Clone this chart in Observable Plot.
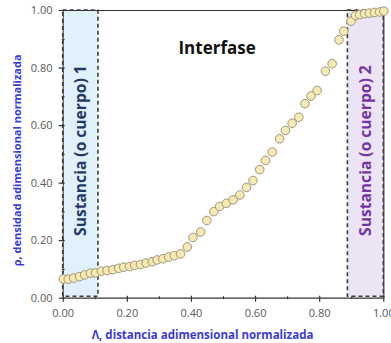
<!DOCTYPE html>
<html>
<head>
<meta charset="utf-8">
<script src="https://cdn.jsdelivr.net/npm/d3@7"></script>
<script src="https://cdn.jsdelivr.net/npm/@observablehq/plot@0.6"></script>
<style>
  html, body { margin: 0; padding: 0; background: #fff; }
  #chart svg { display: block; }
</style>
</head>
<body>
<div id="chart"></div>
<script>
// Normalized dimensionless distance (Λ) and density (ρ)
const lambda = [0.000, 0.016, 0.033, 0.051, 0.067, 0.085, 0.101, 0.119, 0.137, 0.155,
  0.173, 0.189, 0.207, 0.223, 0.241, 0.259, 0.278, 0.293, 0.311, 0.329,
  0.347, 0.366, 0.387, 0.405, 0.429, 0.448, 0.470, 0.488, 0.509, 0.530,
  0.551, 0.572, 0.592, 0.613, 0.631, 0.652, 0.675, 0.693, 0.714, 0.735,
  0.754, 0.773, 0.792, 0.818, 0.839, 0.860, 0.875, 0.898, 0.912, 0.925,
  0.940, 0.955, 0.971, 0.987, 1.000];
const rho = [0.067, 0.066, 0.070, 0.075, 0.081, 0.087, 0.088, 0.094, 0.096, 0.099,
  0.104, 0.108, 0.110, 0.114, 0.117, 0.122, 0.127, 0.133, 0.137, 0.143,
  0.148, 0.154, 0.178, 0.211, 0.230, 0.270, 0.301, 0.319, 0.330, 0.342,
  0.359, 0.385, 0.409, 0.447, 0.479, 0.508, 0.554, 0.583, 0.608, 0.629,
  0.676, 0.703, 0.722, 0.789, 0.815, 0.898, 0.928, 0.963, 0.983, 0.986,
  0.989, 0.991, 0.993, 0.995, 0.998];

// Bulk regions (bodies)
const regionNames = ["Sustancia (o cuerpo) 1", "Sustancia (o cuerpo) 2"];
const regionStart = [0.0, 0.888];
const regionEnd = [0.11, 1.0];
const regionBottom = [0.005, 0.005];
const regionTop = [1.0, 1.0];

const middleLabel = "Interfase";
const xLabel = "Λ, distancia adimensional normalizada";
const yLabel = "ρ, densidad adimensional normalizada";

const majorTicks = [0, 0.2, 0.4, 0.6, 0.8, 1.0];
const minorTicks = [0.1, 0.3, 0.5, 0.7, 0.9];

const points = lambda.map((x, i) => ({x, y: rho[i]}));
const regions = regionNames.map((name, i) => ({
  name, x1: regionStart[i], x2: regionEnd[i], y1: regionBottom[i], y2: regionTop[i],
  xm: (regionStart[i] + regionEnd[i]) / 2
}));

const font = "'Open Sans', sans-serif";
const axisColor = "#333333";

const chart = Plot.plot({
  width: 391,
  height: 343,
  marginLeft: 62.7,
  marginRight: 7.7,
  marginTop: 10,
  marginBottom: 45.3,
  style: {fontFamily: font, background: "#fff"},
  x: {domain: [0, 1], axis: null},
  y: {domain: [0, 1], axis: null},
  marks: [
    Plot.rect(regions, {
      x1: "x1", x2: "x2", y1: "y1", y2: "y2",
      fill: (d, i) => i === 0 ? "#e0f1fb" : "#ece4f4"
    }),
    // frame lines (top and right solid, axes)
    Plot.ruleY([1], {stroke: axisColor, strokeWidth: 1.2}),
    Plot.ruleX([1], {stroke: axisColor, strokeWidth: 1.2}),
    Plot.ruleY([0], {stroke: axisColor, strokeWidth: 1.3}),
    Plot.ruleX([0], {stroke: axisColor, strokeWidth: 1}),
    Plot.rect(regions, {
      x1: "x1", x2: "x2", y1: "y1", y2: "y2",
      fill: "none", stroke: "#3d3d3d", strokeWidth: 1.6, strokeDasharray: "4,3"
    }),
    // axes
    Plot.axisX({ticks: majorTicks, tickSize: 6, dy: -2, text: null, stroke: axisColor, strokeWidth: 1.2}),
    Plot.axisX({ticks: minorTicks, tickSize: 3, dy: -1.5, text: null, stroke: axisColor}),
    Plot.axisX({ticks: majorTicks, tickSize: 0, tickPadding: 11, tickFormat: d3.format(".2f"),
      fontSize: 11, fill: "#595959"}),
    Plot.axisY({ticks: majorTicks, tickSize: 6, dx: 2, text: null, stroke: axisColor, strokeWidth: 1.2}),
    Plot.axisY({ticks: minorTicks, tickSize: 3, dx: 2, text: null, stroke: axisColor}),
    Plot.axisY({ticks: majorTicks, tickSize: 0, tickPadding: 10.7, tickFormat: d3.format(".2f"),
      fontSize: 11, fill: "#595959"}),
    // data
    Plot.dot(points, {x: "x", y: "y", r: 4.3, fill: "#f6e9b1", stroke: "#9d977f", strokeWidth: 1}),
    // region labels
    Plot.text(regions, {
      x: "xm", y: 0.513, text: "name", rotate: -90,
      fill: (d, i) => i === 0 ? "#1f3a68" : "#7434a8",
      fontSize: 15.6, fontWeight: "bold", fontFamily: font
    }),
    Plot.text([middleLabel], {
      x: 0.48, y: 0.868, text: d => d, fontSize: 17, fontWeight: "bold", fill: "#111", fontFamily: font
    }),
    Plot.text([xLabel], {
      frameAnchor: "bottom", text: d => d, dy: 37, dx: -21, lineAnchor: "middle", textAnchor: "middle",
      fontSize: 11.5, fontWeight: "bold", fill: "#3b3bd6", fontFamily: font
    }),
    Plot.text([yLabel], {
      frameAnchor: "left", text: d => d, rotate: -90, dx: -45.7, dy: 6, lineAnchor: "middle", textAnchor: "middle",
      fontSize: 11, fontWeight: "bold", fill: "#3b3bd6", fontFamily: font
    })
  ]
});

document.getElementById("chart").appendChild(chart);
</script>
</body>
</html>
